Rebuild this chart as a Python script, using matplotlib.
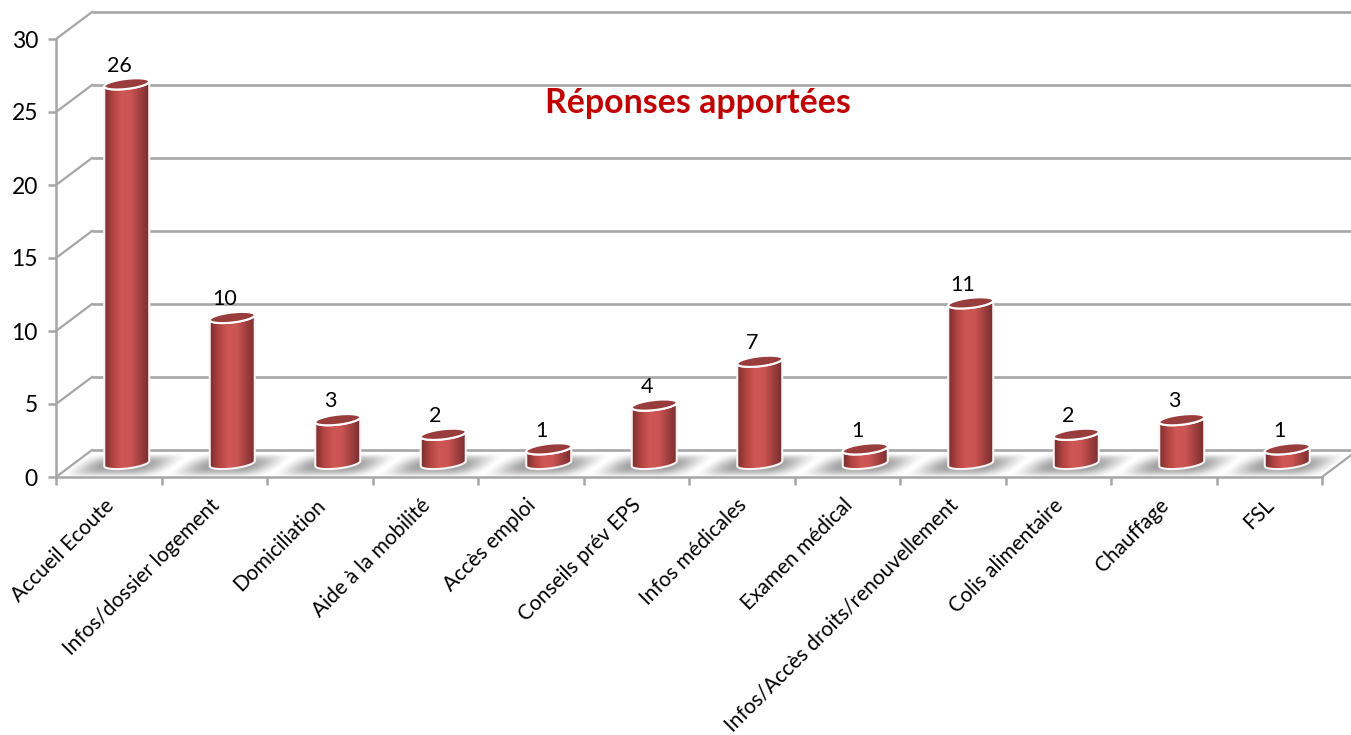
import matplotlib
matplotlib.use('Agg')
import matplotlib.pyplot as plt
import matplotlib.transforms as mtransforms
import numpy as np

plt.rcParams['font.family'] = ['Lato', 'DejaVu Sans']

categories = ['Accueil Ecoute', 'Infos/dossier logement', 'Domiciliation',
              'Aide à la mobilité', 'Accès emploi', 'Conseils prév EPS',
              'Infos médicales', 'Examen médical',
              'Infos/Accès droits/renouvellement', 'Colis alimentaire',
              'Chauffage', 'FSL']
values = [26, 10, 3, 2, 1, 4, 7, 1, 11, 2, 3, 1]
yticks = [0, 5, 10, 15, 20, 25, 30]
title = 'Réponses apportées'

W, H = 1351, 735
GRID = '#a6a6a6'
LEFT, RIGHT, ZERO, TOP = 56, 1322, 477, 39

# pixel -> data scale of the front plane
PX_X = len(categories) / (RIGHT - LEFT)
PX_Y = 30 / (ZERO - TOP)
DEPTH_X = 36 * PX_X
DEPTH_Y = 27 * PX_Y
RADIUS = 22.5 * PX_X


def ellipse(cx, cy, t):
    # tilted a bit, right end higher
    x = cx + RADIUS * np.cos(t)
    y = cy + (5 * np.sin(t) + 2.5 * np.cos(t)) * PX_Y
    return x, y


fig = plt.figure(figsize=(W / 100, H / 100), dpi=100, facecolor='white')
ax = fig.add_axes([LEFT / W, 1 - ZERO / H, (RIGHT - LEFT) / W, (ZERO - TOP) / H])
ax.set_xlim(0, len(categories))
ax.set_ylim(0, 30)
ax.set_autoscale_on(False)
ax.patch.set_visible(False)

for s in ['top', 'right']:
    ax.spines[s].set_visible(False)
for s in ['left', 'bottom']:
    ax.spines[s].set_color(GRID)
    ax.spines[s].set_linewidth(1.8)

# floor with its diagonal shadows
n = len(categories)
floor_x = [0, n, n + DEPTH_X, DEPTH_X]
floor_y = [0, 0, DEPTH_Y, DEPTH_Y]
floor = ax.fill(floor_x, floor_y, color='white', zorder=1, clip_on=False)[0]

gx = np.linspace(0, n + DEPTH_X, 1400)
gy = np.linspace(0, DEPTH_Y, 60)
xx, yy = np.meshgrid(gx, gy)
u = xx - yy * DEPTH_X / DEPTH_Y
phase = np.abs((u % 1) - 0.5) * 2
across = np.clip((1 - phase) / 0.7, 0, 1)
rows = np.clip(1 - np.abs(yy / DEPTH_Y - 0.43) / 0.42, 0, 1)
shade = np.zeros(xx.shape + (4,))
shade[..., :3] = 0.38
shade[..., 3] = 0.62 * np.sin(across * np.pi / 2) ** 1.5 * np.sin(rows * np.pi / 2) ** 0.8
img = ax.imshow(shade, extent=[0, n + DEPTH_X, 0, DEPTH_Y], origin='lower',
                aspect='auto', zorder=1.5, interpolation='bilinear')
img.set_clip_box(fig.bbox)
img.set_clip_path(floor)

# back wall lines and side wall diagonals
for v in yticks:
    ax.plot([DEPTH_X, n + DEPTH_X], [v + DEPTH_Y, v + DEPTH_Y], color=GRID, lw=1.9,
            zorder=1.2, clip_on=False, solid_capstyle='butt')
    ax.plot([0, DEPTH_X], [v, v + DEPTH_Y], color=GRID, lw=1.6, zorder=1.2, clip_on=False)
ax.plot([n, n + DEPTH_X], [0, DEPTH_Y], color=GRID, lw=1.6, zorder=1.2, clip_on=False)

# cylinders
ramp = np.array([[0.47, 0.18, 0.18], [0.70, 0.27, 0.26], [0.81, 0.34, 0.33],
                 [0.79, 0.33, 0.32], [0.64, 0.25, 0.25], [0.47, 0.18, 0.18]])
pos = np.linspace(0, 1, len(ramp))
s = np.linspace(0, 1, 64)
grad = np.stack([np.interp(s, pos, ramp[:, i]) for i in range(3)], axis=-1)[None, :, :]

for i, v in enumerate(values):
    cx = i + 0.5 + DEPTH_X / 2
    base = DEPTH_Y / 2
    cy = base + v
    t = np.linspace(np.pi, 2 * np.pi, 60)
    bx, by = ellipse(cx, base, t)
    tx, ty = ellipse(cx, cy, t[::-1])
    body = ax.fill(np.r_[bx, tx], np.r_[by, ty], facecolor='none', edgecolor='#fbf3f3',
                   lw=1.5, zorder=3, clip_on=False)[0]
    im = ax.imshow(grad, extent=[cx - RADIUS, cx + RADIUS, base - 8 * PX_Y, cy + 8 * PX_Y],
                   aspect='auto', zorder=2.9, interpolation='bilinear')
    im.set_clip_path(body)
    ex, ey = ellipse(cx, cy, np.linspace(0, 2 * np.pi, 90))
    ax.fill(ex, ey, facecolor='#983d3c', edgecolor='white', lw=1.5, zorder=4, clip_on=False)
    ax.annotate(str(v), (cx, cy), xytext=(-5.5, 6), textcoords='offset points',
                ha='center', va='bottom', fontsize=15.5, color='black', zorder=5)

# axes ticks and labels
ax.set_yticks(yticks)
ax.set_xticks(np.arange(n + 1))
ax.set_xticklabels([])
ax.set_xticks(np.arange(n) + 0.5, minor=True)
ax.set_xticklabels(categories, minor=True, rotation=45, ha='right', va='top',
                   rotation_mode='anchor', fontsize=15)
ax.tick_params(axis='both', which='major', color=GRID, width=1.8, length=6, labelsize=16.5)
ax.tick_params(axis='y', pad=7)
ax.tick_params(axis='x', which='minor', length=0, pad=13)

shift = mtransforms.ScaledTranslation(-5 / 100, 0, fig.dpi_scale_trans)
for lab in ax.get_xticklabels(minor=True):
    lab.set_transform(lab.get_transform() + shift)

fig.text(698 / W, 1 - 103 / H, title, color='#c00000', fontsize=24.4, fontweight='bold',
         ha='center', va='center')

fig.savefig('out.png', dpi=100, facecolor='white')
